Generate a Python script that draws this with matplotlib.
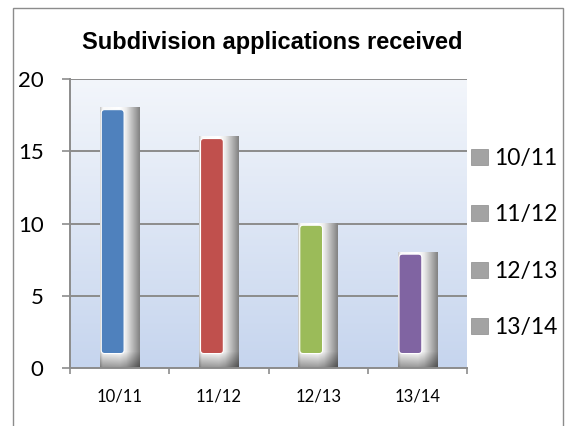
import numpy as np
import matplotlib
matplotlib.use("Agg")
import matplotlib.pyplot as plt
from matplotlib.patches import FancyBboxPatch, Patch, Rectangle

categories = ["10/11", "11/12", "12/13", "13/14"]
applications = [18, 16, 10, 8]
bar_colors = ["#4F81BD", "#C0504D", "#9BBB59", "#8064A2"]
y_ticks = [0, 5, 10, 15, 20]
title = "Subdivision applications received"

plt.rcParams["font.family"] = ["Lato", "DejaVu Sans"]

W, H = 566, 426
fig = plt.figure(figsize=(W / 100, H / 100), dpi=100)
ax = fig.add_axes([70 / W, 1 - 368 / H, 397 / W, 289 / H])

# plot area gradient (white-ish top -> light blue bottom)
top = np.array([0xF3, 0xF6, 0xFB]) / 255
bot = np.array([0xC6, 0xD5, 0xEE]) / 255
t = np.linspace(0, 1, 256)[:, None]
grad = top[None, :] * (1 - t) + bot[None, :] * t
ax.imshow(grad[:, None, :].repeat(2, axis=1), extent=(0, 1, 0, 1),
          transform=ax.transAxes, aspect="auto", zorder=0)

# gridlines
for yv in y_ticks[1:]:
    ax.axhline(yv, color="#8C8C8C", lw=1.4, zorder=1)

px_per_y = 289 / 20
half = 0.2
for i, (v, c) in enumerate(zip(applications, bar_colors)):
    # shaded grey "3D" bar behind
    ny = max(int(v * px_per_y), 2)
    xs = np.linspace(0, 1, 40)
    hprof = np.interp(xs, [0, 0.06, 0.5, 0.66, 1.0], [0.80, 0.97, 1.0, 0.92, 0.52])
    ys = np.arange(ny)[::-1]  # distance from bottom in px (row 0 = top)
    vprof = np.interp(ys, [0, 16, 17], [0.60, 1.0, 1.0])
    img = np.clip(hprof[None, :] * vprof[:, None], 0, 1)
    ax.imshow(img, cmap="gray", vmin=0, vmax=1, extent=(i - half, i + half, 0, v),
              aspect="auto", zorder=2, interpolation="bilinear")
    # coloured rounded bar
    x0, x1 = i - 0.185, i + 0.045
    y0, y1 = 1.0, v - 0.12
    bar = FancyBboxPatch((x0, y0), x1 - x0, y1 - y0,
                         boxstyle="round,pad=0,rounding_size=0.035",
                         mutation_aspect=99.3 / px_per_y,
                         facecolor=c, edgecolor="white", lw=0.8, zorder=3)
    ax.add_patch(bar)

ax.set_xlim(-0.5, len(categories) - 0.5)
ax.set_ylim(0, 20)
ax.set_aspect("auto")

for s in ["top", "right"]:
    ax.spines[s].set_visible(False)
for s in ["left", "bottom"]:
    ax.spines[s].set_color("#8C8C8C")
    ax.spines[s].set_linewidth(1.4)
    ax.spines[s].set_zorder(4)

ax.set_yticks(y_ticks)
ax.tick_params(axis="y", length=6, width=1.2, color="#8C8C8C", pad=13, labelsize=16)
ax.set_xticks(np.arange(len(categories) + 1) - 0.5)
ax.set_xticklabels([])
ax.tick_params(axis="x", which="major", length=4, width=1.2, color="#8C8C8C")
ax.set_xticks(np.arange(len(categories)), minor=True)
ax.set_xticklabels(categories, minor=True)
ax.tick_params(axis="x", which="minor", length=0, pad=15, labelsize=12)

fig.text(272 / W, 1 - 43 / H, title, ha="center", va="center",
         fontsize=17, fontweight="bold", family=["Liberation Sans", "DejaVu Sans"])

handles = [Patch(facecolor="#A3A3A3", edgecolor="#8A8A8A", lw=0.5) for _ in categories]
fig.legend(handles, categories, loc="center left",
           bbox_to_anchor=(471 / W, 1 - 243 / H), frameon=False,
           fontsize=16.5, labelspacing=1.55, handlelength=0.75, handleheight=0.7,
           handletextpad=0.25, borderaxespad=0, borderpad=0)

frame = Rectangle((13 / W, -0.1), 550 / W, 1.1 - 8 / H, transform=fig.transFigure,
                  fill=False, edgecolor="#8C8C8C", lw=1, clip_on=False)
fig.add_artist(frame)

fig.savefig("out.png", dpi=100)
